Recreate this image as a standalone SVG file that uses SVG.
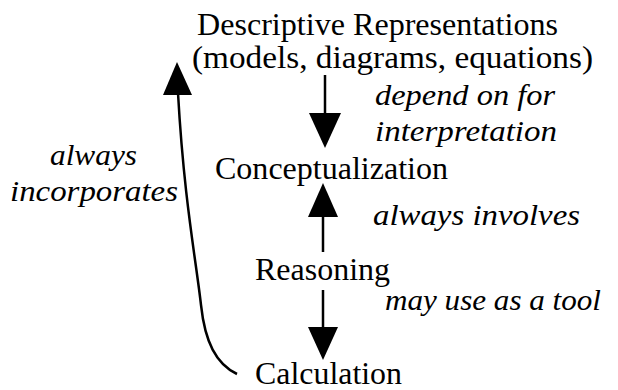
<svg xmlns="http://www.w3.org/2000/svg" width="618" height="390" viewBox="0 0 618 390">
<style>
.n{font-family:"Liberation Serif","Times New Roman",serif;font-size:31px;fill:#000}
.l{font-family:"Liberation Serif","Times New Roman",serif;font-size:30px;font-style:italic;fill:#000}
.c{fill:none;stroke:#000;stroke-width:2.5}
</style>
<rect width="618" height="390" fill="#fff"/>
<g id="descriptive"><text class="n" x="197" y="35" textLength="361" lengthAdjust="spacingAndGlyphs">Descriptive Representations</text><text class="n" x="192" y="68" textLength="401" lengthAdjust="spacingAndGlyphs">(models, diagrams, equations)</text></g>
<g id="conceptualization"><text class="n" x="215" y="179" textLength="233" lengthAdjust="spacingAndGlyphs">Conceptualization</text></g>
<g id="reasoning"><text class="n" x="255" y="280" textLength="135" lengthAdjust="spacingAndGlyphs">Reasoning</text></g>
<g id="calculation"><text class="n" x="255" y="384" textLength="147" lengthAdjust="spacingAndGlyphs">Calculation</text></g>
<g id="connectors">
<path class="c" d="M325,75 L325,116"/><path d="M309,113 L341,113 L325,148 Z"/>
<path class="c" d="M323,252 L323,214"/><path d="M308,217 L338,217 L323,183 Z"/>
<path class="c" d="M323,290 L323,330"/><path d="M308,327 L338,327 L323,360 Z"/>
<path class="c" d="M237,374 C216,364 205,342 201,305 C196,260 184,200 178,93"/><path d="M163,95 L192,95 L177,62 Z"/>
</g>
<g id="labels">
<text class="l" x="375" y="105" textLength="180" lengthAdjust="spacingAndGlyphs">depend on for</text>
<text class="l" x="375" y="141" textLength="182" lengthAdjust="spacingAndGlyphs">interpretation</text>
<text class="l" x="50" y="165" textLength="87" lengthAdjust="spacingAndGlyphs">always</text>
<text class="l" x="10" y="201" textLength="168" lengthAdjust="spacingAndGlyphs">incorporates</text>
<text class="l" x="373" y="225" textLength="207" lengthAdjust="spacingAndGlyphs">always involves</text>
<text class="l" x="385" y="310" textLength="216" lengthAdjust="spacingAndGlyphs">may use as a tool</text>
</g>
</svg>
